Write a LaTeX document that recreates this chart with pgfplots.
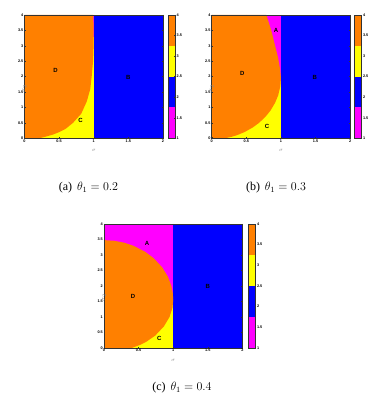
\documentclass[border=0pt]{standalone}
\usepackage{fontspec}
\setmainfont{Liberation Serif}
\setsansfont{Liberation Sans}
\usepackage{pgfplots}
\pgfplotsset{compat=1.18}
\definecolor{cOr}{RGB}{255,128,0}
\definecolor{cYe}{RGB}{255,255,0}
\definecolor{cBl}{RGB}{0,0,255}
\definecolor{cMa}{RGB}{255,0,255}
\pgfplotsset{
  base/.style={scale only axis, axis on top, tick align=inside,
    major tick length=1.3pt,
    tick style={black!80, line width=0.4pt},
    axis line style={black!80, line width=0.9pt},
    /pgf/number format/assume math mode=true,
    ticklabel style={font=\fontsize{3.8}{4}\selectfont\sffamily\bfseries, inner sep=1pt},
  },
  main/.style={base, width=138.5pt, height=123.3pt,
    xmin=0, xmax=2, ymin=0, ymax=4,
    xtick={0,0.5,1,1.5,2}, ytick={0,0.5,1,1.5,2,2.5,3,3.5,4},
    xlabel={$\sigma$}, ylabel={$\sigma_2$},
    label style={black!45, font=\fontsize{5}{5}\selectfont},
    xlabel style={at={(axis description cs:0.5,0)}, anchor=center, yshift=-12pt},
    ylabel style={at={(axis description cs:0,0.5)}, anchor=center, xshift=-12pt},
  },
  cbar/.style={base, width=7.5pt, height=123.3pt,
    xmin=0, xmax=1, ymin=1, ymax=4, xtick=\empty,
    ytick={1,1.5,2,2.5,3,3.5,4}, yticklabel pos=right, ytick pos=right,
  },
}
\tikzset{reg/.style={font=\fontsize{6}{6}\selectfont\sffamily\bfseries, inner sep=0pt}}
\newcommand{\cbarplots}{%
  \addplot[fill=cMa, draw=none] coordinates {(0,1) (1,1) (1,1.75) (0,1.75)} -- cycle;
  \addplot[fill=cBl, draw=none] coordinates {(0,1.75) (1,1.75) (1,2.5) (0,2.5)} -- cycle;
  \addplot[fill=cYe, draw=none] coordinates {(0,2.5) (1,2.5) (1,3.25) (0,3.25)} -- cycle;
  \addplot[fill=cOr, draw=none] coordinates {(0,3.25) (1,3.25) (1,4) (0,4)} -- cycle;
}
\begin{document}
\begin{tikzpicture}
\useasboundingbox (0,0) rectangle (380pt,399pt);

% ---------------- (a) theta1 = 0.2
\begin{axis}[main, at={(24.5pt,260.7pt)}, anchor=south west]
  \addplot[fill=cBl, draw=none] coordinates {(1,0) (2,0) (2,4) (1,4)} -- cycle;
  \addplot[fill=cYe, draw=none] coordinates {(0,0) (1,0) (1,3.3) (0,3.3)} -- cycle;
  \addplot[fill=cMa, draw=none] coordinates {(0,3.3) (1,3.3) (1,4) (0,4)} -- cycle;
  \addplot[fill=cOr, draw=none] coordinates {
    (0,0) (0.21,0) (0.30,0.05) (0.41,0.12) (0.50,0.2) (0.59,0.3) (0.70,0.5)
    (0.82,0.8) (0.90,1.2) (0.95,1.6) (0.97,2.0) (0.99,2.5) (0.998,3.0) (1,3.3)
    (0.997,3.7) (0.994,4) (0,4)} -- cycle;
  \node[reg] at (axis cs:0.45,2.19) {D};
  \node[reg] at (axis cs:0.81,0.57) {C};
  \node[reg] at (axis cs:1.50,1.99) {B};
\end{axis}
\begin{axis}[cbar, at={(168pt,260.7pt)}, anchor=south west]
  \cbarplots
\end{axis}

% ---------------- (b) theta1 = 0.3
\begin{axis}[main, at={(211.7pt,260.7pt)}, anchor=south west]
  \addplot[fill=cBl, draw=none] coordinates {(1,0) (2,0) (2,4) (1,4)} -- cycle;
  \addplot[fill=cYe, draw=none] coordinates {(0,0) (1,0) (1,1.95) (0,1.95)} -- cycle;
  \addplot[fill=cMa, draw=none] coordinates {(0,1.95) (1,1.95) (1,4) (0,4)} -- cycle;
  \addplot[fill=cOr, draw=none] coordinates {
    (0,0) (0.19,0) (0.29,0.05) (0.364,0.1) (0.473,0.2) (0.592,0.35) (0.683,0.5)
    (0.777,0.7) (0.849,0.9) (0.915,1.15) (0.961,1.4) (0.992,1.7) (1,1.95)
    (0.99,2.2) (0.96,2.6) (0.905,3.1) (0.86,3.5) (0.79,4) (0,4)} -- cycle;
  \node[reg] at (axis cs:0.44,2.10) {D};
  \node[reg] at (axis cs:0.93,3.51) {A};
  \node[reg] at (axis cs:0.80,0.40) {C};
  \node[reg] at (axis cs:1.49,1.99) {B};
\end{axis}
\begin{axis}[cbar, at={(354.3pt,260.7pt)}, anchor=south west]
  \cbarplots
\end{axis}

% ---------------- (c) theta1 = 0.4
\begin{axis}[main, at={(104pt,51pt)}, anchor=south west, height=124pt]
  \addplot[fill=cBl, draw=none] coordinates {(1,0) (2,0) (2,4) (1,4)} -- cycle;
  \addplot[fill=cYe, draw=none] coordinates {(0,0) (1,0) (1,1.56) (0,1.56)} -- cycle;
  \addplot[fill=cMa, draw=none] coordinates {(0,1.56) (1,1.56) (1,4) (0,4)} -- cycle;
  \addplot[fill=cOr, draw=none] coordinates {
    (0,0) (0.40,0) (0.52,0.1) (0.61,0.2) (0.74,0.4) (0.866,0.7) (0.946,1.0)
    (0.989,1.3) (1,1.56) (0.992,1.8) (0.973,2.0) (0.923,2.3) (0.841,2.6)
    (0.716,2.9) (0.597,3.1) (0.423,3.3) (0.286,3.4) (0.145,3.46) (0,3.48)} -- cycle;
  \node[reg] at (axis cs:0.62,3.38) {A};
  \node[reg] at (axis cs:0.42,1.66) {D};
  \node[reg] at (axis cs:0.80,0.30) {C};
  \node[reg] at (axis cs:1.50,1.98) {B};
\end{axis}
\begin{axis}[cbar, at={(248.3pt,51pt)}, anchor=south west, height=124pt]
  \cbarplots
\end{axis}

% captions
\node[font=\fontsize{12}{14}\selectfont] at (88.5pt,211pt) {(a)\hspace{0.4em}$\theta_1 = 0.2$};
\node[font=\fontsize{12}{14}\selectfont] at (276pt,211pt) {(b)\hspace{0.4em}$\theta_1 = 0.3$};
\node[font=\fontsize{12}{14}\selectfont] at (182pt,11pt) {(c)\hspace{0.4em}$\theta_1 = 0.4$};
\end{tikzpicture}
\end{document}
